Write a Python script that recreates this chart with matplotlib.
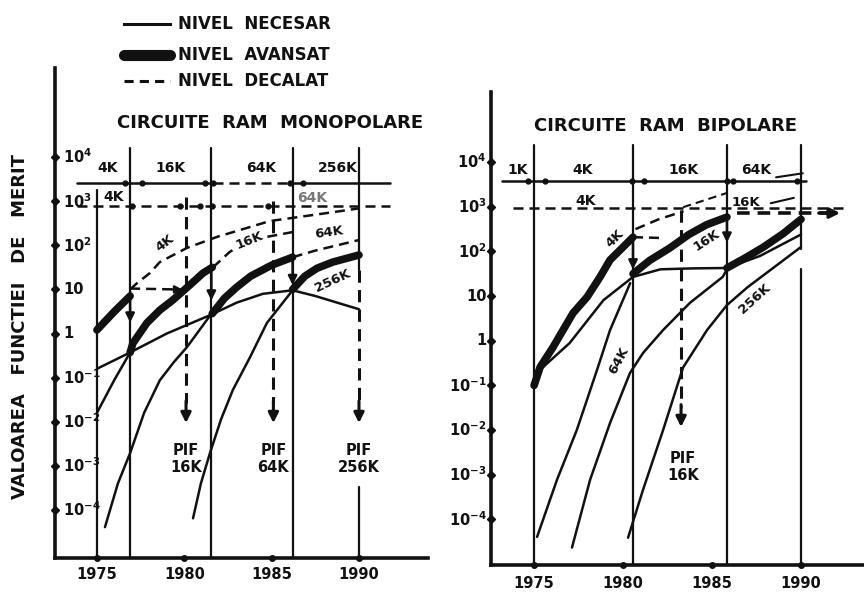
import matplotlib
matplotlib.use('Agg')
import matplotlib.pyplot as plt
from matplotlib.lines import Line2D
from matplotlib.transforms import blended_transform_factory

plt.rcParams['font.family'] = ['DejaVu Sans']
plt.rcParams['font.weight'] = 'bold'

INK = '#111111'
W, H = 864, 595

# ---------------- shared axis text ----------------
decade_exp = [4, 3, 2, 1, 0, -1, -2, -3, -4]
decade_labels = [r'$\mathbf{10^{4}}$', r'$\mathbf{10^{3}}$', r'$\mathbf{10^{2}}$', '10', '1',
                 r'$\mathbf{10^{-1}}$', r'$\mathbf{10^{-2}}$', r'$\mathbf{10^{-3}}$', r'$\mathbf{10^{-4}}$']
year_ticks = [1975, 1980, 1985, 1990]
year_labels = ['1975', '1980', '1985', '1990']
legend_labels = ['NIVEL  NECESAR', 'NIVEL  AVANSAT', 'NIVEL  DECALAT']
ylabel_text = 'VALOAREA   FUNCTIEI   DE   MERIT'
title_mono = 'CIRCUITE  RAM  MONOPOLARE'
title_bip = 'CIRCUITE  RAM  BIPOLARE'

# ---------------- monopolar panel (log10 values) ----------------
mono_bounds = [1975.0, 1976.9, 1981.55, 1986.2, 1990.0]
mono_row_top = 3.41
mono_row_dec = 2.89
mono_top_labels = ['4K', '16K', '64K', '256K']
mono_top_label_x = [1975.6, 1979.2, 1984.4, 1988.8]
mono_top_marks = [1976.6, 1977.6, 1981.18, 1981.64, 1986.05, 1986.8]
mono_dec_marks = [1977.0, 1979.75, 1980.9, 1981.6, 1984.8]

mono_need_x = [1975.0, 1976.9, 1979.0, 1981.5, 1983.0, 1984.5, 1986.2, 1987.5, 1990.0]
mono_need_y = [-0.8, -0.43, 0.0, 0.42, 0.7, 0.9, 0.98, 0.85, 0.55]

mono_adv4_x = [1975.0, 1976.0, 1976.9]
mono_adv4_y = [0.08, 0.5, 0.85]
mono_adv16_x = [1976.9, 1977.06, 1977.86, 1978.6, 1979.35, 1980.32, 1981.07, 1981.6]
mono_adv16_y = [-0.43, -0.22, 0.24, 0.53, 0.76, 1.1, 1.37, 1.5]
mono_adv64_x = [1981.6, 1982.3, 1983.0, 1983.8, 1985.0, 1986.2]
mono_adv64_y = [0.45, 0.8, 1.05, 1.3, 1.55, 1.73]
mono_adv256_x = [1986.2, 1986.9, 1987.6, 1988.5, 1990.0]
mono_adv256_y = [1.0, 1.3, 1.48, 1.62, 1.78]

mono_dec4_x = [1976.9, 1977.29, 1978.03, 1978.6, 1980.15, 1981.87, 1984.9, 1988.5, 1990.05]
mono_dec4_y = [1.0, 1.14, 1.37, 1.62, 1.94, 2.19, 2.55, 2.75, 2.84]
mono_dec4h_x = [1976.9, 1979.4]
mono_dec4h_y = [1.02, 1.0]
mono_dec16_x = [1981.64, 1982.6, 1983.76, 1986.2]
mono_dec16_y = [1.5, 1.85, 2.12, 2.3]
mono_dec64_x = [1986.2, 1987.5, 1990.0]
mono_dec64_y = [1.73, 1.88, 2.12]

mono_low_a_x = [1975.0, 1976.0, 1976.9]
mono_low_a_y = [-1.8, -1.05, -0.43]
mono_low_16_x = [1975.46, 1976.2, 1976.9, 1977.7, 1978.6, 1979.4, 1980.15, 1981.5]
mono_low_16_y = [-4.39, -3.4, -2.71, -1.8, -1.06, -0.65, -0.31, 0.42]
mono_low_64_x = [1980.5, 1980.95, 1981.47, 1982.1, 1982.78, 1983.76, 1984.73, 1986.2]
mono_low_64_y = [-4.19, -3.4, -2.71, -1.95, -1.28, -0.54, 0.24, 0.98]

mono_pif_x = [1980.1, 1985.1, 1990.0]
mono_pif_top = [3.1, 3.0, 1.44]
mono_pif_tip = -2.03
mono_pif_labels = ['PIF\n16K', 'PIF\n64K', 'PIF\n256K']

# ---------------- bipolar panel (log10 values) ----------------
bip_bounds = [1975.0, 1980.56, 1985.84, 1990.0]
bip_row_top = 3.57
bip_row_dec = 2.97
bip_top_labels = ['1K', '4K', '16K', '64K']
bip_top_label_x = [1974.1, 1977.75, 1983.4, 1987.5]
bip_top_marks = [1974.66, 1975.6, 1980.5, 1981.2, 1985.84, 1986.2, 1989.8]

bip_need_x = [1975.0, 1975.34, 1977.0, 1978.9, 1980.56, 1982.1, 1983.8, 1985.84, 1987.7, 1990.0]
bip_need_y = [-0.99, -0.65, -0.05, 0.91, 1.43, 1.6, 1.62, 1.63, 1.9, 2.38]

bip_adv4_x = [1975.0, 1975.34, 1976.07, 1976.63, 1977.19, 1977.98, 1978.71, 1979.27, 1979.83, 1980.56]
bip_adv4_y = [-1.0, -0.59, -0.14, 0.24, 0.62, 0.98, 1.43, 1.81, 2.03, 2.32]
bip_adv16_x = [1980.56, 1981.5, 1982.6, 1983.7, 1984.7, 1985.84]
bip_adv16_y = [1.5, 1.8, 2.07, 2.38, 2.6, 2.77]
bip_adv64_x = [1985.84, 1986.8, 1987.9, 1989.0, 1990.0]
bip_adv64_y = [1.63, 1.84, 2.1, 2.4, 2.72]

bip_dec4h_x = [1980.56, 1982.3]
bip_dec4h_y = [2.32, 2.3]
bip_dec4_x = [1980.7, 1982.0, 1983.4]
bip_dec4_y = [2.5, 2.72, 2.9]
bip_dec16_x = [1983.37, 1985.84]
bip_dec16_y = [2.99, 3.31]
bip_arrow_x = [1986.4, 1991.6]
bip_arrow_y = 2.86

bip_low_1_x = [1975.17, 1976.29, 1977.4, 1978.54, 1979.27, 1980.4]
bip_low_1_y = [-4.39, -3.11, -2.0, -0.65, 0.24, 1.29]
bip_low_2_x = [1977.13, 1978.15, 1979.27, 1980.39, 1981.13, 1982.25, 1983.76, 1985.6, 1985.84]
bip_low_2_y = [-4.63, -3.11, -1.84, -0.72, -0.27, 0.24, 0.85, 1.43, 1.6]
bip_low_3_x = [1980.28, 1981.12, 1982.25, 1983.37, 1984.72, 1985.84, 1987.0, 1988.5, 1990.0]
bip_low_3_y = [-4.41, -3.34, -2.0, -0.6, 0.24, 0.8, 1.2, 1.65, 2.1]

bip_pif_x = [1983.26]
bip_pif_top = [2.93]
bip_pif_tip = -1.93
bip_pif_labels = ['PIF\n16K']


def p(v):
    return [10.0 ** a for a in v] if isinstance(v, (list, tuple)) else 10.0 ** v


fig = plt.figure(figsize=(W / 100, H / 100), dpi=100)
fig.patch.set_facecolor('white')

THIN = 1.8
THICK = 5.5
DASH = (4.0, 2.4)


def base_axes(rect, xlim, ylim):
    ax = fig.add_axes(rect)
    ax.set_yscale('log')
    ax.set_xlim(*xlim)
    ax.set_ylim(p(ylim[0]), p(ylim[1]))
    for s in ['top', 'right']:
        ax.spines[s].set_visible(False)
    for s in ['left', 'bottom']:
        ax.spines[s].set_linewidth(2.6)
        ax.spines[s].set_color(INK)
    ax.set_xticks([])
    ax.set_yticks([])
    ax.minorticks_off()
    ax.patch.set_alpha(0)
    return ax


def line(ax, xs, ys, lw=THIN, dashed=False, **kw):
    ls = (0, DASH) if dashed else '-'
    ax.plot(xs, p(list(ys)), color=INK, lw=lw, ls=ls, solid_capstyle='round',
            dash_capstyle='butt', **kw)


def down_arrow(ax, x, y0, y1, lw=1.8, ms=13):
    ax.annotate('', xy=(x, p(y1)), xytext=(x, p(y0)),
                arrowprops=dict(arrowstyle='-|>', color=INK, lw=lw, mutation_scale=ms,
                                shrinkA=0, shrinkB=0))


# ======================= LEFT PANEL =======================
ax1 = base_axes([55 / W, 1 - 558 / H, 373 / W, 490 / H], (1972.6, 1993.95), (-5.09, 6.02))
x0 = ax1.get_xlim()[0]
bt1 = blended_transform_factory(ax1.transAxes, ax1.transData)
tb1 = blended_transform_factory(ax1.transData, ax1.transAxes)
for e, lab in zip(decade_exp, decade_labels):
    ax1.plot([x0], [p(e)], marker='D', ms=4.5, color=INK, clip_on=False)
    ax1.text(0.022, p(e), lab, transform=bt1, ha='left', va='center', fontsize=10.5,
             fontweight='bold', color=INK)
for yr, lab in zip(year_ticks, year_labels):
    ax1.plot([yr], [p(-5.09)], marker='o', ms=4, color=INK, clip_on=False)
    ax1.text(yr, -0.033, lab, transform=tb1, ha='center', va='center', fontsize=10.5,
             fontweight='bold', color=INK)

# vertical boundaries
for i, b in enumerate(mono_bounds):
    top = 3.25 if i == 0 else 4.2
    if b == 1990.0:
        line(ax1, [b, b], [top, mono_pif_top[2]], lw=1.6)
        line(ax1, [b, b], [-3.48, -5.09], lw=1.6)
    else:
        line(ax1, [b, b], [top, -5.09], lw=1.6)

# top rows
line(ax1, [1973.86, 1981.18], [mono_row_top, mono_row_top])
line(ax1, [1981.64, 1986.05], [mono_row_top, mono_row_top], dashed=True)
line(ax1, [1986.8, 1991.77], [mono_row_top, mono_row_top])
line(ax1, [1981.18, 1981.64], [mono_row_top, mono_row_top])
line(ax1, [1986.05, 1986.8], [mono_row_top, mono_row_top])
ax1.plot(mono_top_marks, [p(mono_row_top)] * len(mono_top_marks), 'o', ms=3.5, color=INK)
line(ax1, [1973.86, 1991.77], [mono_row_dec, mono_row_dec], dashed=True)
ax1.plot(mono_dec_marks, [p(mono_row_dec)] * len(mono_dec_marks), 'o', ms=3.5, color=INK)
for lab, xx in zip(mono_top_labels, mono_top_label_x):
    ax1.text(xx, p(3.76), lab, ha='center', va='center', fontsize=10, fontweight='bold', color=INK)
ax1.text(1975.95, p(3.1), '4K', ha='center', va='center', fontsize=10, fontweight='bold', color=INK)
ax1.text(1987.3, p(3.08), '64K', ha='center', va='center', fontsize=10, fontweight='bold', color='#777777')

# curves
line(ax1, mono_need_x, mono_need_y)
for xs, ys in [(mono_adv4_x, mono_adv4_y), (mono_adv16_x, mono_adv16_y),
               (mono_adv64_x, mono_adv64_y), (mono_adv256_x, mono_adv256_y)]:
    line(ax1, xs, ys, lw=THICK)
for xs, ys in [(mono_dec4_x, mono_dec4_y), (mono_dec4h_x, mono_dec4h_y),
               (mono_dec16_x, mono_dec16_y), (mono_dec64_x, mono_dec64_y)]:
    line(ax1, xs, ys, dashed=True)
ax1.annotate('', xy=(mono_dec4h_x[1] + 0.5, p(mono_dec4h_y[1])),
             xytext=(mono_dec4h_x[1] - 0.1, p(mono_dec4h_y[1])),
             arrowprops=dict(arrowstyle='-|>', color=INK, lw=1.6, mutation_scale=11,
                             shrinkA=0, shrinkB=0))
for xs, ys in [(mono_low_a_x, mono_low_a_y), (mono_low_16_x, mono_low_16_y),
               (mono_low_64_x, mono_low_64_y)]:
    line(ax1, xs, ys)

# drop arrows on boundaries
down_arrow(ax1, 1976.9, 0.95, 0.25)
down_arrow(ax1, 1981.55, 1.45, 0.75)
down_arrow(ax1, 1986.2, 1.7, 1.1)

# PIF arrows
for xx, top, lab in zip(mono_pif_x, mono_pif_top, mono_pif_labels):
    line(ax1, [xx, xx], [top, mono_pif_tip + 0.45], lw=2.2, dashed=True)
    down_arrow(ax1, xx, mono_pif_tip + 0.5, mono_pif_tip, lw=2.2, ms=15)
    ax1.text(xx, p(-2.85), lab, ha='center', va='center', fontsize=10.5, fontweight='bold',
             color=INK, linespacing=1.15)

# curve labels
lbl = dict(ha='center', va='center', fontsize=9.5, fontweight='bold', color=INK,
           bbox=dict(facecolor='white', edgecolor='none', pad=0.3))
ax1.text(1978.9, p(2.05), '4K', rotation=38, **lbl)
ax1.text(1983.75, p(2.12), '16K', rotation=22, **lbl)
ax1.text(1988.3, p(2.3), '64K', rotation=8, **lbl)
ax1.text(1988.5, p(1.2), '256K', rotation=25, **lbl)

# ======================= RIGHT PANEL =======================
ax2 = base_axes([491 / W, 1 - 565 / H, 373 / W, 473 / H], (1972.58, 1993.54), (-5.02, 5.57))
x0 = ax2.get_xlim()[0]
bt2 = blended_transform_factory(ax2.transAxes, ax2.transData)
tb2 = blended_transform_factory(ax2.transData, ax2.transAxes)
for e, lab in zip(decade_exp, decade_labels):
    ax2.plot([x0], [p(e)], marker='D', ms=4.5, color=INK, clip_on=False)
    ax2.text(-0.012, p(e), lab, transform=bt2, ha='right', va='center', fontsize=10.5,
             fontweight='bold', color=INK)
for yr, lab in zip(year_ticks, year_labels):
    ax2.plot([yr], [p(-5.02)], marker='o', ms=4, color=INK, clip_on=False)
    ax2.text(yr, -0.04, lab, transform=tb2, ha='center', va='center', fontsize=10.5,
             fontweight='bold', color=INK)

for b in bip_bounds:
    if b == 1990.0:
        line(ax2, [b, b], [4.38, 2.05], lw=1.6)
        line(ax2, [b, b], [1.6, -5.02], lw=1.6)
    else:
        line(ax2, [b, b], [4.38, -5.02], lw=1.6)

line(ax2, [1973.2, 1990.3], [bip_row_top, bip_row_top])
ax2.plot(bip_top_marks, [p(bip_row_top)] * len(bip_top_marks), 'o', ms=3.5, color=INK)
line(ax2, [1973.8, 1992.6], [bip_row_dec, bip_row_dec], dashed=True)
for lab, xx in zip(bip_top_labels, bip_top_label_x):
    ax2.text(xx, p(3.83), lab, ha='center', va='center', fontsize=10, fontweight='bold', color=INK)
ax2.text(1977.9, p(3.12), '4K', ha='center', va='center', fontsize=10, fontweight='bold', color=INK)
ax2.text(1986.9, p(3.1), '16K', ha='center', va='center', fontsize=9.5, fontweight='bold', color=INK)
line(ax2, bip_dec16_x, bip_dec16_y, lw=1.5, dashed=True)
line(ax2, [1988.3, 1989.6], [3.08, 3.2], lw=1.5)
line(ax2, [1988.6, 1990.1], [3.66, 3.75], lw=1.5)

line(ax2, bip_need_x, bip_need_y)
for xs, ys in [(bip_adv4_x, bip_adv4_y), (bip_adv16_x, bip_adv16_y), (bip_adv64_x, bip_adv64_y)]:
    line(ax2, xs, ys, lw=THICK)
for xs, ys in [(bip_dec4h_x, bip_dec4h_y), (bip_dec4_x, bip_dec4_y)]:
    line(ax2, xs, ys, dashed=True)
for xs, ys in [(bip_low_1_x, bip_low_1_y), (bip_low_2_x, bip_low_2_y), (bip_low_3_x, bip_low_3_y)]:
    line(ax2, xs, ys)

# thick dashed arrow to the right
ax2.plot(bip_arrow_x, [p(bip_arrow_y)] * 2, color=INK, lw=2.6, ls=(0, (3.5, 2.2)))
ax2.annotate('', xy=(bip_arrow_x[1] + 0.6, p(bip_arrow_y)), xytext=(bip_arrow_x[1] - 0.6, p(bip_arrow_y)),
             arrowprops=dict(arrowstyle='-|>', color=INK, lw=2.4, mutation_scale=15,
                             shrinkA=0, shrinkB=0))

down_arrow(ax2, 1980.56, 2.25, 1.6)
down_arrow(ax2, 1985.84, 2.72, 2.2)

for xx, top, lab in zip(bip_pif_x, bip_pif_top, bip_pif_labels):
    line(ax2, [xx, xx], [top, bip_pif_tip + 0.45], lw=2.2, dashed=True)
    down_arrow(ax2, xx, bip_pif_tip + 0.5, bip_pif_tip, lw=2.2, ms=15)
    ax2.text(xx + 0.1, p(-2.82), lab, ha='center', va='center', fontsize=10.5, fontweight='bold',
             color=INK, linespacing=1.15)

ax2.text(1979.55, p(2.28), '4K', rotation=45, **lbl)
ax2.text(1984.7, p(2.25), '16K', rotation=33, **lbl)
ax2.text(1979.75, p(-0.45), '64K', rotation=62, **lbl)
ax2.text(1987.4, p(0.95), '256K', rotation=42, **lbl)

# ======================= legend, titles, y label =======================
def fpt(px, py):
    return px / W, 1 - py / H

for i, (py, lab) in enumerate(zip([24, 55, 81], legend_labels)):
    (xa, ya), (xb, _) = fpt(124, py), fpt(170, py)
    if i == 0:
        fig.add_artist(Line2D([xa, xb], [ya, ya], color=INK, lw=2.2))
    elif i == 1:
        fig.add_artist(Line2D([xa, xb], [ya, ya], color=INK, lw=8, solid_capstyle='round'))
    else:
        fig.add_artist(Line2D([xa, xb], [ya, ya], color=INK, lw=2.2, ls=(0, (3, 2))))
    tx, ty = fpt(178, py)
    fig.text(tx, ty, lab, ha='left', va='center', fontsize=12, fontweight='bold', color=INK)

tx, ty = fpt(270, 123)
fig.text(tx, ty, title_mono, ha='center', va='center', fontsize=13, fontweight='bold', color=INK)
tx, ty = fpt(665, 126)
fig.text(tx, ty, title_bip, ha='center', va='center', fontsize=13, fontweight='bold', color=INK)
tx, ty = fpt(20, 326)
fig.text(tx, ty, ylabel_text, ha='center', va='center', rotation=90, fontsize=13,
         fontweight='bold', color=INK)

fig.savefig('out.png', dpi=100, facecolor='white')
